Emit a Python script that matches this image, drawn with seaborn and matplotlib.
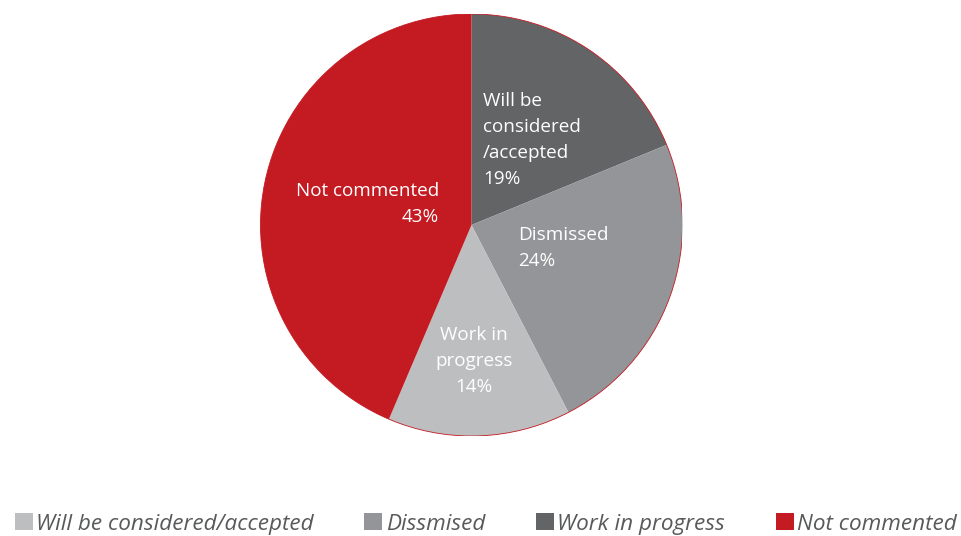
import matplotlib
matplotlib.use("Agg")
import matplotlib.pyplot as plt
import seaborn as sns
from matplotlib.patches import Patch, Circle

sns.set_theme(style="white")
plt.rcParams['font.family'] = ['Open Sans', 'DejaVu Sans']

slice_labels = ["Will be\nconsidered\n/accepted", "Dismissed", "Work in\nprogress", "Not commented"]
slice_shares = [18.8, 23.6, 14.0, 43.6]     # angular shares
slice_pct_labels = [19, 24, 14, 43]         # percentages printed on the slices
slice_colors = ["#636466", "#939598", "#bcbec0", "#c41a22"]

legend_labels = ["Will be considered/accepted", "Dissmised", "Work in progress", "Not commented"]
legend_colors = ["#bcbec0", "#939598", "#636466", "#c41a22"]

W, H = 962, 536
fig = plt.figure(figsize=(W / 100, H / 100), dpi=100)
cx, cy, r = 471.5, 225, 211
ax = fig.add_axes([(cx - r) / W, (H - cy - r) / H, 2 * r / W, 2 * r / H])
ax.pie(slice_shares, colors=slice_colors, startangle=90, counterclock=False,
       radius=1, wedgeprops=dict(linewidth=0))
ax.add_patch(Circle((0, 0), 1, fill=False, edgecolor="#c41a22", linewidth=0.6))
ax.set_xlim(-1, 1)
ax.set_ylim(-1, 1)
ax.set_aspect("equal")
ax.axis("off")

def d(px, py):
    return (px - cx) / r, (cy - py) / r

fs = 13.6
txt = dict(color="white", fontsize=fs, linespacing=1.55)
texts = [f"{l}\n{v}%" for l, v in zip(slice_labels, slice_pct_labels)]
ax.text(*d(483, 140), texts[0], ha="left", va="center", **txt)
ax.text(*d(518, 248), texts[1], ha="left", va="center", **txt)
ax.text(*d(474, 361), texts[2], ha="center", va="center", multialignment="center", **txt)
ax.text(*d(439, 204), texts[3], ha="right", va="center", multialignment="right", **txt)

handles = [Patch(facecolor=c, edgecolor="none") for c in legend_colors]
leg = fig.legend(handles, legend_labels, loc="lower center", bbox_to_anchor=(0.505, -0.035),
                 ncol=4, frameon=False, handlelength=0.8, handleheight=0.8,
                 handletextpad=0.15, columnspacing=2.25,
                 prop=dict(family="Open Sans", style="italic", size=16.2))
for t in leg.get_texts():
    t.set_color("#58595b")

fig.savefig("out.png", dpi=100)
